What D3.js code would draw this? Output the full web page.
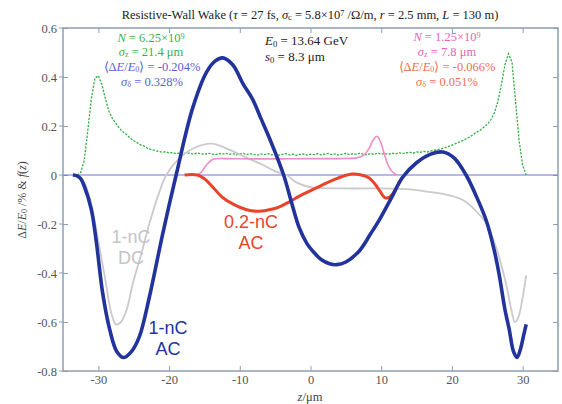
<!DOCTYPE html>
<html>
<head>
<meta charset="utf-8">
<script src="https://cdn.jsdelivr.net/npm/d3@7"></script>
<style>
  body { margin: 0; background: #fff; }
  svg { display: block; }
</style>
</head>
<body>
<svg id="chart" width="562" height="404"></svg>
<script>
// ---- axis ticks ----
const xTicks = [-30, -20, -10, 0, 10, 20, 30];
const xTickLabels = ["-30", "-20", "-10", "0", "10", "20", "30"];
const yTicks = [0.6, 0.4, 0.2, 0, -0.2, -0.4, -0.6, -0.8];
const yTickLabels = ["0.6", "0.4", "0.2", "0", "-0.2", "-0.4", "-0.6", "-0.8"];

// ---- bunch profile f(z), 1 nC (dashed green) : [z, f] ----
const profile1nC = [
  [-33.5,0],[-33,0],[-32.5,0.01],[-32,0.06],[-31.5,0.18],[-31,0.31],[-30.5,0.395],[-30,0.405],
  [-29.5,0.37],[-29,0.31],[-28.5,0.26],[-28,0.23],[-27.5,0.21],[-27,0.19],[-26.5,0.175],[-26,0.165],
  [-25.5,0.15],[-25,0.14],[-24.5,0.132],[-24,0.122],[-23.5,0.118],[-23,0.108],[-22.5,0.104],[-22,0.1],
  [-21.5,0.096],[-21,0.093],[-20.5,0.095],[-20,0.09],[-19.5,0.092],[-19,0.087],[-18.5,0.09],[-18,0.086],
  [-17.5,0.091],[-17,0.088],[-16.5,0.085],[-16,0.09],[-15.5,0.087],[-15,0.084],[-14.5,0.089],[-14,0.086],
  [-13.5,0.083],[-13,0.088],[-12.5,0.085],[-12,0.089],[-11.5,0.084],[-11,0.087],[-10.5,0.082],[-10,0.086],
  [-9.5,0.088],[-9,0.083],[-8.5,0.087],[-8,0.084],[-7.5,0.081],[-7,0.086],[-6.5,0.083],[-6,0.087],
  [-5.5,0.082],[-5,0.085],[-4.5,0.081],[-4,0.084],[-3.5,0.087],[-3,0.082],[-2.5,0.085],[-2,0.08],
  [-1.5,0.084],[-1,0.086],[-0.5,0.081],[0,0.085],[0.5,0.083],[1,0.087],[1.5,0.082],[2,0.085],
  [2.5,0.088],[3,0.083],[3.5,0.086],[4,0.081],[4.5,0.085],[5,0.088],[5.5,0.083],[6,0.087],
  [6.5,0.084],[7,0.089],[7.5,0.085],[8,0.082],[8.5,0.088],[9,0.084],[9.5,0.09],[10,0.085],
  [10.5,0.088],[11,0.084],[11.5,0.089],[12,0.086],[12.5,0.091],[13,0.087],[13.5,0.09],[14,0.093],
  [14.5,0.089],[15,0.094],[15.5,0.092],[16,0.096],[16.5,0.094],[17,0.098],[17.5,0.101],[18,0.104],
  [18.5,0.107],[19,0.112],[19.5,0.116],[20,0.122],[20.5,0.128],[21,0.134],[21.5,0.14],[22,0.148],
  [22.5,0.155],[23,0.165],[23.5,0.175],[24,0.183],[24.5,0.195],[25,0.207],[25.5,0.225],[26,0.255],
  [26.5,0.3],[27,0.37],[27.5,0.45],[28,0.495],[28.5,0.46],[29,0.3],[29.5,0.14],[30,0.04],[30.5,0]
];

// ---- bunch profile f(z), 0.2 nC (pink) ----
const profile02nC = [
  [-16,0],[-15.5,0.01],[-15,0.03],[-14.5,0.048],[-14,0.06],[-13.5,0.066],[-12,0.067],[-8,0.066],
  [-4,0.066],[0,0.067],[4,0.067],[6.5,0.07],[7.5,0.08],[8.3,0.11],[8.9,0.145],[9.4,0.158],
  [9.9,0.135],[10.4,0.09],[10.9,0.045],[11.5,0.015],[12.2,0]
];

// ---- energy loss, 1 nC AC (thick dark blue) ----
const loss1nCAC = [
  [-33.6,0],[-33,-0.004],[-32.5,-0.015],[-32,-0.045],[-31,-0.14],[-30.3,-0.27],[-29.4,-0.48],[-28.4,-0.63],
  [-27.4,-0.72],[-26.4,-0.745],[-25.3,-0.72],[-24.2,-0.66],[-22.8,-0.5],[-20.9,-0.24],[-19,0],
  [-16.7,0.27],[-14.7,0.42],[-13.5,0.465],[-12.4,0.478],[-11,0.45],[-9.5,0.37],[-8.2,0.31],
  [-7,0.23],[-5.8,0.15],[-3.8,0],[-2.7,-0.11],[-1.6,-0.215],[-0.5,-0.28],[0.3,-0.31],[1.5,-0.345],
  [2.7,-0.362],[3.7,-0.366],[5,-0.355],[6.9,-0.31],[8.5,-0.24],[9.8,-0.18],[11.5,-0.09],[13,-0.01],
  [15,0.05],[17,0.085],[18.7,0.094],[20.3,0.07],[22,0],[23.5,-0.09],[24.9,-0.19],[26,-0.31],
  [26.7,-0.41],[27.5,-0.55],[28.1,-0.63],[28.7,-0.72],[29.2,-0.745],[29.7,-0.71],[30.1,-0.66],[30.5,-0.61]
];

// ---- energy loss, 1 nC DC (light grey) ----
const loss1nCDC = [
  [-33,0],[-32,-0.03],[-31,-0.12],[-30,-0.27],[-29,-0.43],[-28.2,-0.56],[-27.5,-0.61],[-26.8,-0.6],
  [-26,-0.55],[-25.1,-0.44],[-24,-0.33],[-22.8,-0.2],[-21.5,-0.08],[-20.4,0],[-18.5,0.07],[-16.5,0.11],
  [-14,0.128],[-12,0.11],[-9,0.07],[-7,0.045],[-5,0.015],[-3.4,0],[-2,-0.03],[0,-0.05],[5,-0.055],
  [10,-0.055],[14.4,-0.06],[17,-0.07],[19.2,-0.08],[21,-0.095],[22,-0.11],[23.5,-0.15],[24.9,-0.2],
  [26.3,-0.3],[27.7,-0.45],[28.4,-0.55],[28.9,-0.6],[29.4,-0.58],[30,-0.5],[30.5,-0.41]
];

// ---- energy loss, 0.2 nC AC (thick red) ----
const loss02nCAC = [
  [-17.8,0],[-16,0],[-15,-0.015],[-13.8,-0.05],[-12.5,-0.09],[-11,-0.118],[-9,-0.142],[-7.2,-0.148],
  [-5.5,-0.14],[-4.4,-0.13],[-3,-0.11],[-1.5,-0.085],[0.3,-0.06],[1.7,-0.04],[3.1,-0.022],[4.5,-0.006],
  [5.9,0.004],[7.2,0],[8.3,-0.012],[9.2,-0.04],[9.8,-0.065],[10.5,-0.092],[11.2,-0.09],[11.8,-0.07],
  [12.5,-0.035],[13,-0.01]
];

// ---- chart ----
const plotL = 63, plotR = 558, plotT = 28, plotB = 371;
const svg = d3.select("#chart");

const x = d3.scaleLinear().domain([-35, 35]).range([plotL, plotR]);
const y = d3.scaleLinear().domain([-0.8, 0.6]).range([plotB, plotT]);

const frameColor = "#8e9db3";
const tickTextColor = "#555";
const serif = "'Liberation Serif', 'Times New Roman', serif";
const sans = "'Liberation Sans', Arial, sans-serif";

// clip to plot area
svg.append("defs").append("clipPath").attr("id", "plotClip")
  .append("rect").attr("x", plotL).attr("y", plotT).attr("width", plotR - plotL).attr("height", plotB - plotT);

// axes (ticks inside the frame, labels outside)
const xAxisB = d3.axisBottom(x).tickValues(xTicks).tickSizeInner(-5).tickSizeOuter(0)
  .tickFormat((d, i) => xTickLabels[i]).tickPadding(4);
const xAxisT = d3.axisTop(x).tickValues(xTicks).tickSizeInner(-5).tickSizeOuter(0).tickFormat("");
const yAxisL = d3.axisLeft(y).tickValues(yTicks).tickSizeInner(-5).tickSizeOuter(0)
  .tickFormat((d, i) => yTickLabels[i]).tickPadding(6);
const yAxisR = d3.axisRight(y).tickValues(yTicks).tickSizeInner(-5).tickSizeOuter(0).tickFormat("");

function styleAxis(g) {
  g.select(".domain").remove();
  g.selectAll(".tick line").attr("stroke", frameColor).attr("stroke-width", 1);
  g.selectAll(".tick text").attr("fill", tickTextColor).style("font-family", serif).style("font-size", "12.5px");
}
svg.append("g").attr("transform", `translate(0,${plotB})`).call(xAxisB).call(styleAxis);
svg.append("g").attr("transform", `translate(0,${plotT})`).call(xAxisT).call(styleAxis);
svg.append("g").attr("transform", `translate(${plotL},0)`).call(yAxisL).call(styleAxis);
svg.append("g").attr("transform", `translate(${plotR},0)`).call(yAxisR).call(styleAxis);

// small outward marks on the left axis
svg.append("g").selectAll("line").data(yTicks).join("line")
  .attr("x1", plotL - 4).attr("x2", plotL).attr("y1", d => y(d)).attr("y2", d => y(d))
  .attr("stroke", frameColor).attr("stroke-width", 1);

const plot = svg.append("g").attr("clip-path", "url(#plotClip)");

// zero reference line
plot.append("line")
  .attr("x1", plotL).attr("x2", plotR).attr("y1", y(0)).attr("y2", y(0))
  .attr("stroke", "#6f70d6").attr("stroke-width", 1.1);

const smooth = d3.line().x(d => x(d[0])).y(d => y(d[1])).curve(d3.curveCatmullRom.alpha(0.5));
const straight = d3.line().x(d => x(d[0])).y(d => y(d[1]));

// 1 nC profile (noisy dashed)
plot.append("path").datum(profile1nC).attr("d", straight)
  .attr("fill", "none").attr("stroke", "#35ad44").attr("stroke-width", 1.3)
  .attr("stroke-dasharray", "2.2,1.4");

// 1 nC DC loss
plot.append("path").datum(loss1nCDC).attr("d", smooth)
  .attr("fill", "none").attr("stroke", "#cacace").attr("stroke-width", 1.8);

// 0.2 nC profile
plot.append("path").datum(profile02nC).attr("d", smooth)
  .attr("fill", "none").attr("stroke", "#f08cc8").attr("stroke-width", 1.6);

// 0.2 nC AC loss
plot.append("path").datum(loss02nCAC).attr("d", smooth)
  .attr("fill", "none").attr("stroke", "#e8442a").attr("stroke-width", 3);

// 1 nC AC loss
plot.append("path").datum(loss1nCAC).attr("d", smooth)
  .attr("fill", "none").attr("stroke", "#22349c").attr("stroke-width", 3.6)
  .attr("stroke-linejoin", "round");

// frame
svg.append("rect").attr("x", plotL).attr("y", plotT).attr("width", plotR - plotL).attr("height", plotB - plotT)
  .attr("fill", "none").attr("stroke", frameColor).attr("stroke-width", 1.5);

// rich text helper: segments of [text, kind] where kind in "", "i", "sub", "sup"
function rich(parent, px, py, segs, opts) {
  const t = parent.append("text").attr("x", px).attr("y", py)
    .attr("text-anchor", opts.anchor || "middle")
    .attr("fill", opts.color || "#000")
    .style("font-family", opts.font || serif)
    .style("font-size", (opts.size || 12.5) + "px");
  segs.forEach(([s, k]) => {
    const sp = t.append("tspan").text(s);
    if (k === "i") sp.style("font-style", "italic");
    if (k === "sub") sp.attr("baseline-shift", "-18%").style("font-size", "66%");
    if (k === "sup") sp.attr("baseline-shift", "36%").style("font-size", "66%");
  });
  return t;
}

// title
rich(svg, 310, 19, [
  ["Resistive-Wall Wake ("], ["τ", "i"], [" = 27 fs, "], ["σ", "i"], ["c", "sub"],
  [" = 5.8×10"], ["7", "sup"], [" /Ω/m, "], ["r", "i"], [" = 2.5 mm, "], ["L", "i"], [" = 130 m)"]
], { color: "#222", size: 12.5 });

// 1 nC beam parameters
const green = "#3bb04a", blueTxt = "#5a62d2";
rich(svg, 151, 42, [["N", "i"], [" = 6.25×10"], ["9", "sup"]], { color: green });
rich(svg, 151, 56, [["σ", "i"], ["z", "sub"], [" = 21.4 μm"]], { color: green });
rich(svg, 152, 71, [["⟨Δ"], ["E", "i"], ["/"], ["E", "i"], ["0", "sub"], ["⟩ = -0.204%"]], { color: blueTxt });
rich(svg, 152, 86, [["σ", "i"], ["δ", "sub"], [" = 0.328%"]], { color: blueTxt });

// machine parameters
rich(svg, 265, 45, [["E", "i"], ["0", "sub"], [" = 13.64 GeV"]], { color: "#222", anchor: "start", size: 13 });
rich(svg, 265, 61, [["s", "i"], ["0", "sub"], [" = 8.3 μm"]], { color: "#222", anchor: "start", size: 13 });

// 0.2 nC beam parameters
const pink = "#ea5fb4", orange = "#f0704e";
rich(svg, 447, 41, [["N", "i"], [" = 1.25×10"], ["9", "sup"]], { color: pink });
rich(svg, 447, 56, [["σ", "i"], ["z", "sub"], [" = 7.8 μm"]], { color: pink });
rich(svg, 447, 71, [["⟨Δ"], ["E", "i"], ["/"], ["E", "i"], ["0", "sub"], ["⟩ = -0.066%"]], { color: orange });
rich(svg, 447, 86, [["σ", "i"], ["δ", "sub"], [" = 0.051%"]], { color: orange });

// curve labels
function label2(px, py, l1, l2, color) {
  const g = svg.append("g").attr("fill", color).style("font-family", sans).style("font-size", "18px")
    .attr("text-anchor", "middle");
  g.append("text").attr("x", px).attr("y", py).text(l1);
  g.append("text").attr("x", px).attr("y", py + 21).text(l2);
}
label2(131, 243, "1-nC", "DC", "#c4c4c8");
label2(168, 334, "1-nC", "AC", "#22349c");
label2(251, 228, "0.2-nC", "AC", "#e8442a");

// axis titles
rich(svg, 310, 401, [["z", "i"], ["/μm"]], { color: "#444", size: 12.5 });
const yl = rich(svg, 0, 0, [["Δ"], ["E", "i"], ["/"], ["E", "i"], ["0", "sub"], [" /% & "], ["f", "i"], ["("], ["z", "i"], [")"]],
  { color: "#444", size: 12 });
yl.attr("transform", "translate(26,200) rotate(-90)");
</script>
</body>
</html>
